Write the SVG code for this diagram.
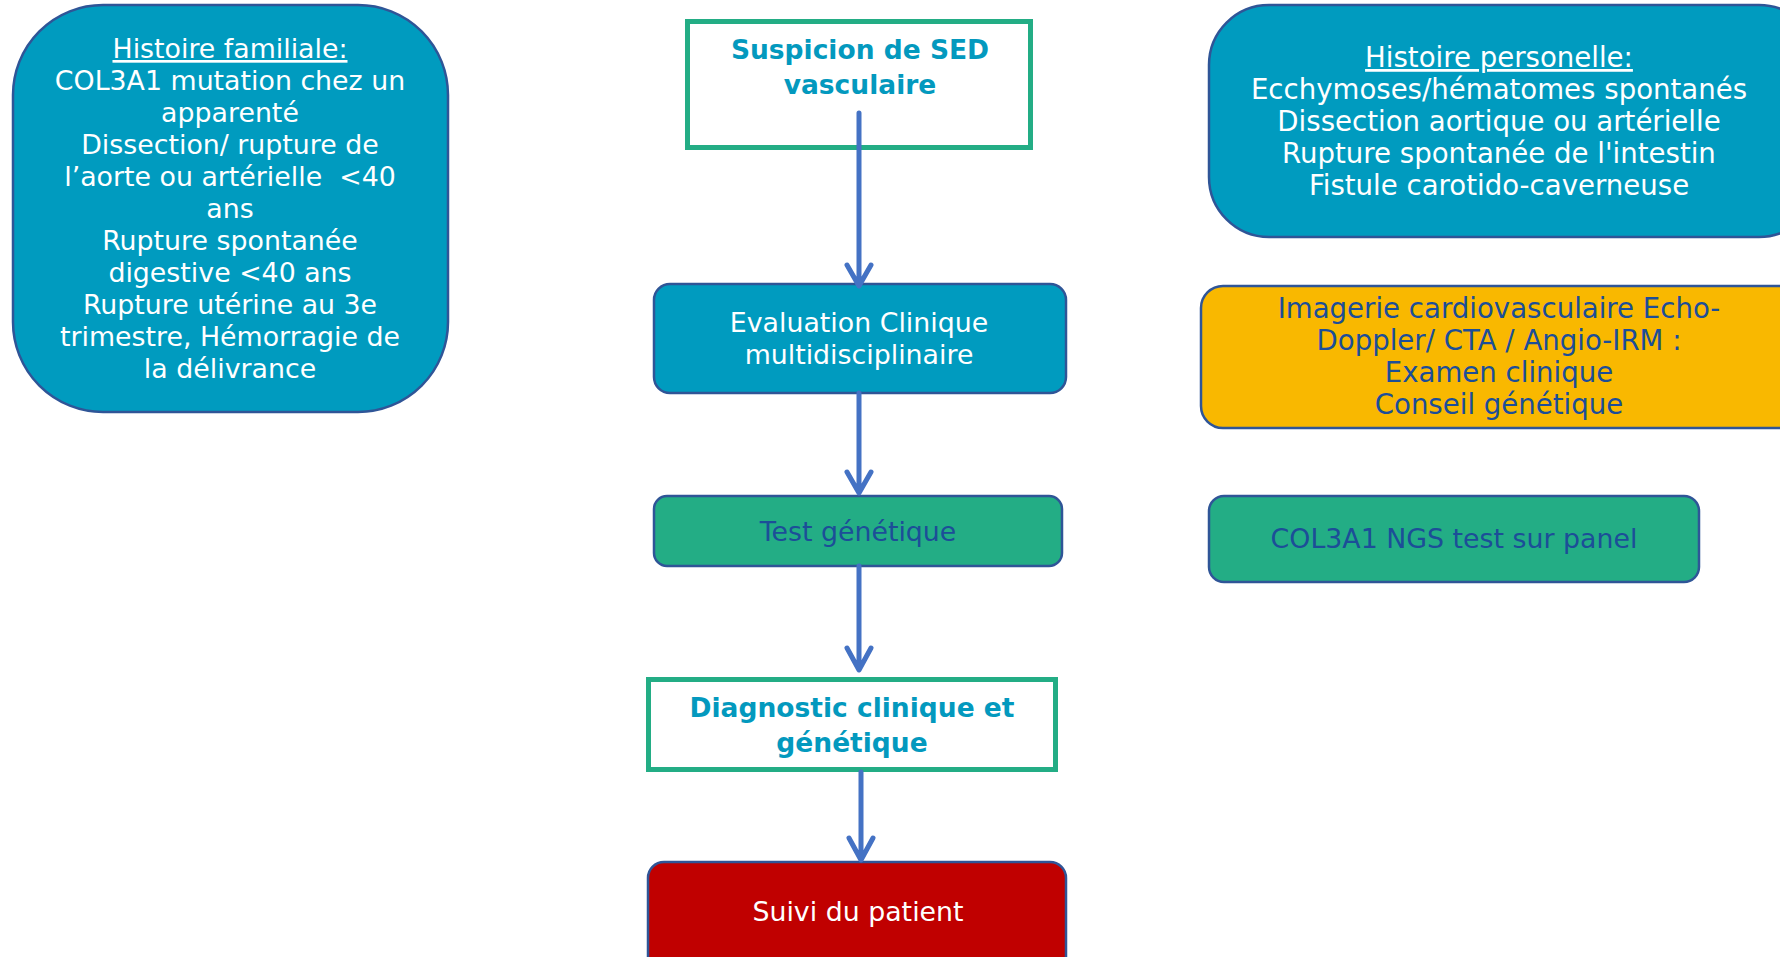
<svg xmlns="http://www.w3.org/2000/svg" width="1780" height="957" viewBox="0 0 1780 957">
<style>
.t{font-family:"DejaVu Sans","Liberation Sans",sans-serif;font-size:26.8px;text-anchor:middle}
.r{font-size:27.6px}
.b{font-family:"DejaVu Sans","Liberation Sans",sans-serif;font-size:26.5px;font-weight:bold;text-anchor:middle;fill:#0399BE}
.w{fill:#ffffff}
.d{fill:#1C4E98}
.teal{fill:#009BBF;stroke:#2F5597;stroke-width:2.5}
.green{fill:#23AD85;stroke:#2F5597;stroke-width:2.5}
.yel{fill:#F9B800;stroke:#2F5597;stroke-width:2.5}
.red{fill:#C00000;stroke:#2F5597;stroke-width:2.5}
.frame{fill:#ffffff;stroke:#23AD85;stroke-width:5}
.c{stroke:#4472C4;stroke-width:5;fill:none;stroke-linecap:round;stroke-linejoin:round}
</style>
<rect width="1780" height="957" fill="#ffffff"/>
<g id="histoire-familiale">
<rect class="teal" x="13" y="5" width="435" height="407" rx="90" ry="90"/>
<text class="t w" xml:space="preserve"><tspan x="230" y="58" text-decoration="underline">Histoire familiale:</tspan><tspan x="230" y="90">COL3A1 mutation chez un</tspan><tspan x="230" y="122">apparenté</tspan><tspan x="230" y="154">Dissection/ rupture de</tspan><tspan x="230" y="186">l’aorte ou artérielle  &lt;40</tspan><tspan x="230" y="218">ans</tspan><tspan x="230" y="250">Rupture spontanée</tspan><tspan x="230" y="282">digestive &lt;40 ans</tspan><tspan x="230" y="314">Rupture utérine au 3e</tspan><tspan x="230" y="346">trimestre, Hémorragie de</tspan><tspan x="230" y="378">la délivrance</tspan></text>
</g>
<g id="suspicion">
<rect class="frame" x="687.5" y="21.5" width="343" height="126"/>
<text class="b"><tspan x="860" y="59">Suspicion de SED</tspan><tspan x="860" y="94">vasculaire</tspan></text>
</g>
<g id="histoire-personelle">
<rect class="teal" x="1209" y="5" width="610" height="232" rx="60" ry="60"/>
<text class="t r w"><tspan x="1499" y="67" text-decoration="underline">Histoire personelle:</tspan><tspan x="1499" y="99">Ecchymoses/hématomes spontanés</tspan><tspan x="1499" y="131">Dissection aortique ou artérielle</tspan><tspan x="1499" y="163">Rupture spontanée de l'intestin</tspan><tspan x="1499" y="195">Fistule carotido-caverneuse</tspan></text>
</g>
<g id="evaluation">
<rect class="teal" x="654" y="284" width="412" height="109" rx="16" ry="16"/>
<text class="t w"><tspan x="859" y="332">Evaluation Clinique</tspan><tspan x="859" y="364">multidisciplinaire</tspan></text>
</g>
<g id="imagerie">
<rect class="yel" x="1201" y="286" width="610" height="142" rx="22" ry="22"/>
<text class="t r d"><tspan x="1499" y="318">Imagerie cardiovasculaire Echo-</tspan><tspan x="1499" y="350">Doppler/ CTA / Angio-IRM :</tspan><tspan x="1499" y="382">Examen clinique</tspan><tspan x="1499" y="414">Conseil génétique</tspan></text>
</g>
<g id="test-genetique">
<rect class="green" x="654" y="496" width="408" height="70" rx="13" ry="13"/>
<text class="t d" x="858" y="541">Test génétique</text>
</g>
<g id="col3a1-ngs">
<rect class="green" x="1209" y="496" width="490" height="86" rx="15" ry="15"/>
<text class="t d" x="1454" y="548">COL3A1 NGS test sur panel</text>
</g>
<g id="diagnostic">
<rect class="frame" x="648.5" y="679.5" width="407" height="90"/>
<text class="b"><tspan x="852" y="717">Diagnostic clinique et</tspan><tspan x="852" y="752">génétique</tspan></text>
</g>
<g id="suivi">
<rect class="red" x="648" y="862" width="418" height="130" rx="16" ry="16"/>
<text class="t w" x="858" y="921">Suivi du patient</text>
</g>
<g id="connectors">
<path class="c" d="M859 113 V285 M847 265 L859 286 L871 265"/>
<path class="c" d="M859 393 V492 M847 472 L859 493 L871 472"/>
<path class="c" d="M859 566 V669 M847 648 L859 670 L871 648"/>
<path class="c" d="M861 772 V859 M849 838 L861 860 L873 838"/>
</g>
</svg>
